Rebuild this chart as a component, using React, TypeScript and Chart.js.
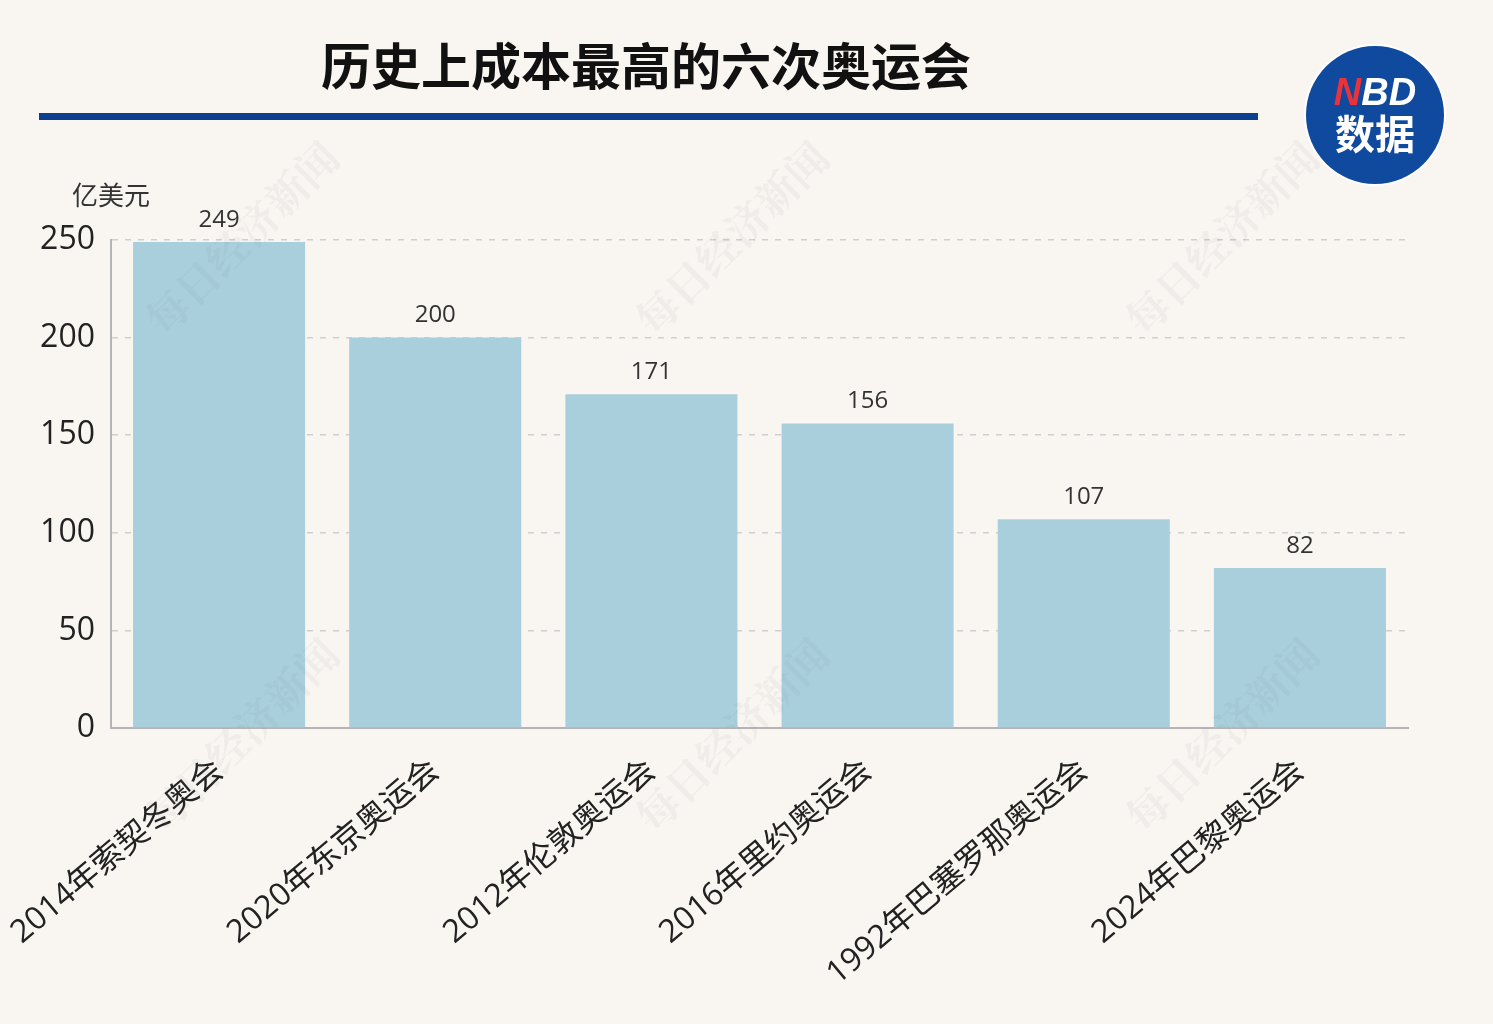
import React, { useEffect, useRef } from "react";
import { Chart, registerables } from "chart.js";

Chart.register(...registerables);

const titleText = "历史上成本最高的六次奥运会";
const unitText = "亿美元";
const categories = [
  "2014年索契冬奥会",
  "2020年东京奥运会",
  "2012年伦敦奥运会",
  "2016年里约奥运会",
  "1992年巴塞罗那奥运会",
  "2024年巴黎奥运会",
];
const costValues = [249, 200, 171, 156, 107, 82];
const yTicks = [0, 50, 100, 150, 200, 250];
const watermarkText = "每日经济新闻";

const FONT = "'Open Sans', 'Noto Sans CJK SC', sans-serif";
const CJK = "'Noto Sans CJK SC', sans-serif";

const decorPlugin = {
  id: "decor",
  beforeDraw(chart: any) {
    const ctx = chart.ctx;
    ctx.save();
    ctx.fillStyle = "#f9f6f2";
    ctx.fillRect(0, 0, chart.width, chart.height);
    // title
    ctx.fillStyle = "#111";
    ctx.font = `bold 50px ${CJK}`;
    ctx.textAlign = "center";
    ctx.textBaseline = "middle";
    ctx.fillText(titleText, 646, 66);
    // blue rule
    ctx.fillStyle = "#0d3f8f";
    ctx.fillRect(39, 113, 1219, 7);
    // logo
    ctx.beginPath();
    ctx.arc(1375, 115, 71, 0, Math.PI * 2);
    ctx.fillStyle = "#ffffff";
    ctx.fill();
    ctx.beginPath();
    ctx.arc(1375, 115, 69, 0, Math.PI * 2);
    ctx.fillStyle = "#0f4a9e";
    ctx.fill();
    ctx.font = `bold italic 38px 'Liberation Sans', sans-serif`;
    ctx.textAlign = "left";
    ctx.textBaseline = "middle";
    const nW = ctx.measureText("N").width;
    const bdW = ctx.measureText("BD").width;
    const startX = 1375 - (nW + bdW) / 2;
    ctx.fillStyle = "#e8323c";
    ctx.fillText("N", startX, 95);
    ctx.fillStyle = "#ffffff";
    ctx.fillText("BD", startX + nW, 95);
    ctx.font = `bold 40px ${CJK}`;
    ctx.textAlign = "center";
    ctx.fillText("数据", 1375, 134);
    // unit
    ctx.fillStyle = "#333";
    ctx.font = `26px ${CJK}`;
    ctx.textAlign = "center";
    ctx.fillText(unitText, 111, 195);
    ctx.restore();
  },
  afterDatasetsDraw(chart: any) {
    const ctx = chart.ctx;
    const meta = chart.getDatasetMeta(0);
    ctx.save();
    ctx.fillStyle = "#333";
    ctx.font = `24px ${FONT}`;
    ctx.textAlign = "center";
    ctx.textBaseline = "bottom";
    meta.data.forEach((bar: any, i: number) => {
      ctx.fillText(String(chart.data.datasets[0].data[i]), bar.x, bar.y - 10);
    });
    ctx.restore();
  },
  afterDraw(chart: any) {
    const ctx = chart.ctx;
    ctx.save();
    ctx.fillStyle = "rgba(140,140,140,0.09)";
    ctx.font = `bold 42px 'Noto Serif CJK SC', ${CJK}`;
    ctx.textAlign = "center";
    ctx.textBaseline = "middle";
    const xs = [242, 732, 1222];
    const ys = [238, 735];
    xs.forEach((x) =>
      ys.forEach((y) => {
        ctx.save();
        ctx.translate(x, y);
        ctx.rotate(-Math.PI / 4);
        ctx.fillText(watermarkText, 0, 0);
        ctx.restore();
      })
    );
    ctx.restore();
  },
};

export default function App() {
  const ref = useRef<HTMLCanvasElement>(null);
  useEffect(() => {
    if (!ref.current) return;
    const chart = new Chart(ref.current, {
      type: "bar",
      data: {
        labels: categories,
        datasets: [
          {
            data: costValues,
            backgroundColor: "#a8cfdb",
            categoryPercentage: 1,
            barPercentage: 0.796,
          },
        ],
      },
      options: {
        responsive: false,
        animation: false,
        devicePixelRatio: 1,
        layout: { padding: { top: 240, right: 85, left: 0, bottom: 0 } },
        plugins: { legend: { display: false }, tooltip: { enabled: false } },
        scales: {
          x: {
            grid: { display: false },
            border: { display: true, color: "#b5b5b5", width: 2 },
            ticks: {
              minRotation: 40,
              maxRotation: 40,
              padding: 16,
              color: "#222",
              font: { size: 32, family: FONT },
            },
            afterFit(s: any) {
              s.height = 296;
              s.paddingLeft = 0;
              s.paddingRight = 0;
            },
          },
          y: {
            min: 0,
            max: 250,
            afterBuildTicks(s: any) {
              s.ticks = yTicks.map((v) => ({ value: v }));
            },
            grid: { color: "#cfcfcf", lineWidth: 1.5, drawTicks: false },
            border: { display: true, color: "#b5b5b5", width: 2, dash: [6, 7] },
            ticks: {
              padding: 16,
              color: "#222",
              font: { size: 32, family: FONT },
            },
            afterFit(s: any) {
              s.width = 111;
            },
          },
        },
      },
      plugins: [decorPlugin],
    });
    return () => chart.destroy();
  }, []);
  return (
    <div style={{ position: "absolute", left: 0, top: 0, width: 1493, height: 1024 }}>
      <canvas ref={ref} width={1493} height={1024} />
    </div>
  );
}
